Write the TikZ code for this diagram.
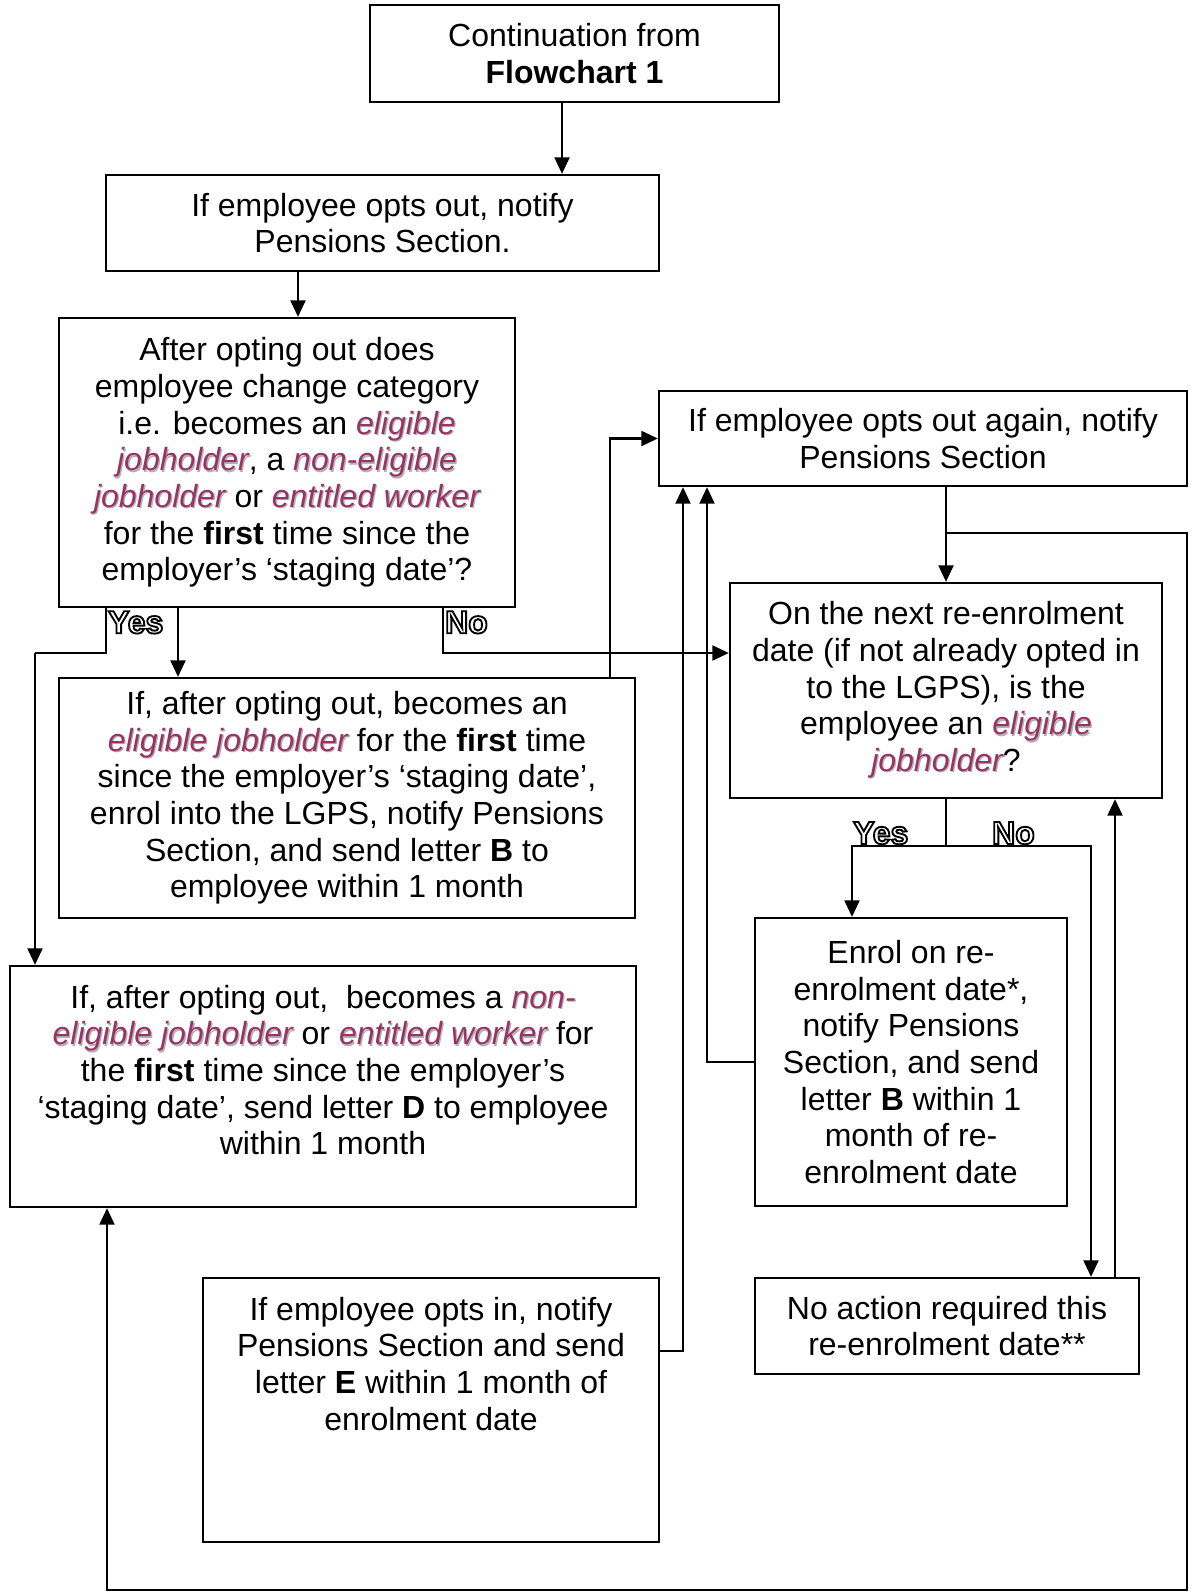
\documentclass[tikz,border=0pt]{standalone}
\usepackage{fontspec}
\setmainfont{Liberation Sans}
\usetikzlibrary{positioning,arrows.meta}
\definecolor{termpurple}{HTML}{993366}
\newcommand{\pxu}{0.375pt}
% purple italic term with a light shadow
\newcommand{\term}[1]{\rlap{\kern0.5pt\raisebox{-0.5pt}{\color{black!30}\itshape#1}}{\color{termpurple}\itshape#1}}
% outlined Yes / No
\newcommand{\outlined}[1]{\special{pdf:literal direct 1 Tr 0.7 w}#1\special{pdf:literal direct 0 Tr}}
\begin{document}
\begin{tikzpicture}[
		x=0.375pt, y=-0.375pt,
		>={Triangle[length=6.2pt,width=5.6pt]},
		line width=0.85pt,
		% plain rectangle with centred text
		box/.style={rectangle, draw=black, line width=0.85pt, inner sep=0pt, align=center, font=\fontsize{12}{13.75}\selectfont},
		boxsize/.style 2 args={minimum width=#1*\pxu, minimum height=#2*\pxu},
		% text only, for boxes whose text sits at the top
		txt/.style={inner sep=0pt, align=center, font=\fontsize{12}{13.75}\selectfont},
		yesno/.style={inner sep=0pt, font=\fontsize{12}{13.75}\selectfont\bfseries}
	]
	\useasboundingbox (0,0) rectangle (1192,1595);

	%Nodes
	\node[box, boxsize={409}{97}]  (cont)       at (574.5,53.5)  {Continuation from\\\textbf{Flowchart 1}};
	\node[box, boxsize={553}{96}]  (optout)     at (382.5,223)   {If employee opts out, notify\\Pensions Section.};
	\node[box, boxsize={456}{289}] (changecat)  at (287,462.5)   {After opting out does\\employee change category\\i.e. becomes an \term{eligible}\\\term{jobholder}, a \term{non-eligible}\\\term{jobholder} or \term{entitled worker}\\for the \textbf{first} time since the\\employer’s ‘staging date’?};
	\node[box, boxsize={576}{240}] (eligfirst)  at (347,798)     {If, after opting out, becomes an\\\term{eligible jobholder} for the \textbf{first} time\\since the employer’s ‘staging date’,\\enrol into the LGPS, notify Pensions\\Section, and send letter \textbf{B} to\\employee within 1 month};
	\node[box, boxsize={626}{241}] (noneligfirst) at (323,1086.5) {};
	\node[txt, anchor=north]       (nonelightext) at ([yshift=-19*\pxu]noneligfirst.north) {If, after opting out,~ becomes a \term{non-}\\\term{eligible jobholder} or \term{entitled worker} for\\the \textbf{first} time since the employer’s\\‘staging date’, send letter \textbf{D} to employee\\within 1 month};
	\node[box, boxsize={456}{264}] (optin)      at (431,1410)    {};
	\node[txt, anchor=north]       (optintext)  at ([yshift=-19*\pxu]optin.north) {If employee opts in, notify\\Pensions Section and send\\letter \textbf{E} within 1 month of\\enrolment date};
	\node[box, boxsize={528}{95}]  (optagain)   at (923,438.5)   {If employee opts out again, notify\\Pensions Section};
	\node[box, boxsize={432}{215}] (reenrol)    at (946,690.5)   {On the next re-enrolment\\date (if not already opted in\\to the LGPS), is the\\employee an \term{eligible}\\\term{jobholder}?};
	\node[box, boxsize={312}{288}] (enrolre)    at (911,1062)    {Enrol on re-\\enrolment date*,\\notify Pensions\\Section, and send\\letter \textbf{B} within 1\\month of re-\\enrolment date};
	\node[box, boxsize={384}{96}]  (noaction)   at (947,1326)    {No action required this\\re-enrolment date**};

	% points where the lines turn
	\coordinate (topcol)       at (562,0);
	\coordinate (optcol)       at (298,0);
	\coordinate (yesturn)      at (106,653);
	\coordinate (yesleft)      at (35,653);
	\coordinate (eligcol)      at (178,0);
	\coordinate (noturn)       at (443,653);
	\coordinate (upcol)        at (610,0);
	\coordinate (loopsplit)    at (946,533);
	\coordinate (loopright)    at (1187,533);
	\coordinate (loopbottom)   at (1187,1590);
	\coordinate (loopleft)     at (107,1590);
	\coordinate (reenrolsplit) at (946,846);
	\coordinate (reyes)        at (852,846);
	\coordinate (reno)         at (1091,846);
	\coordinate (backcol)      at (1115,0);
	\coordinate (enrolcol)     at (707,0);
	\coordinate (optincol)     at (683,0);
	\coordinate (optinrow)     at (0,1351);

	%Lines
	\draw[->] (cont.south -| topcol)       --  (optout.north -| topcol);
	\draw[->] (optout.south -| optcol)     --  (changecat.north -| optcol);
	\draw[-]  (changecat.south -| yesturn) --  (yesturn) -- (yesleft);
	\draw[->] (yesleft)                    --  (noneligfirst.north -| yesleft);
	\draw[->] (changecat.south -| eligcol) --  (eligfirst.north -| eligcol);
	\draw[->] (changecat.south -| noturn)  |-  (reenrol.west |- noturn);
	\draw[->] (eligfirst.north -| upcol)   |-  (optagain.west);
	\draw[->] (optagain.south -| reenrol.north) -- (reenrol.north);
	% loop back round the right and the bottom
	\draw[->] (loopsplit) -- (loopright) -- (loopbottom) -- (loopleft) -- (noneligfirst.south -| loopleft);
	\draw[-]  (reenrol.south)              --  (reenrolsplit);
	\draw[->] (reenrolsplit)               -|  (enrolre.north -| reyes);
	\draw[->] (reenrolsplit)               -|  (noaction.north -| reno);
	\draw[->] (noaction.north -| backcol)  --  (reenrol.south -| backcol);
	\draw[->] (enrolre.west)               -|  (optagain.south -| enrolcol);
	\draw[->] (optin.east |- optinrow)     -|  (optagain.south -| optincol);

	% Yes / No labels
	\node[yesno, anchor=north west] (yesone) at ([xshift=1*\pxu, yshift=-2*\pxu]changecat.south -| yesturn) {\outlined{Yes}};
	\node[yesno, anchor=north west] (noone)  at ([xshift=1*\pxu, yshift=-2*\pxu]changecat.south -| noturn)  {\outlined{No}};
	\node[yesno, anchor=base west]  (yestwo) at ([yshift=2*\pxu]reyes) {\outlined{Yes}};
	\node[yesno, anchor=base west]  (notwo)  at ([xshift=139*\pxu, yshift=2*\pxu]reyes) {\outlined{No}};
\end{tikzpicture}
\end{document}
